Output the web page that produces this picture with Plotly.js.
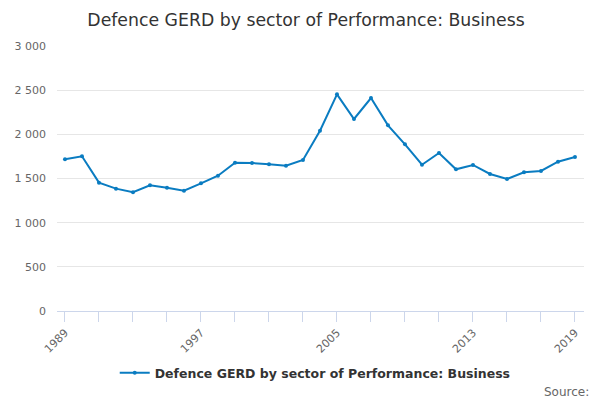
<!DOCTYPE html>
<html>
<head>
<meta charset="utf-8">
<script src="https://cdn.plot.ly/plotly-3.0.1.min.js"></script>
<style>
  html, body { margin: 0; padding: 0; background: #fff; }
  #chart { width: 600px; height: 400px; }
</style>
</head>
<body>
<div id="chart"></div>
<script>
var years = [1989, 1990, 1991, 1992, 1993, 1994, 1995, 1996, 1997, 1998,
             1999, 2000, 2001, 2002, 2003, 2004, 2005, 2006, 2007, 2008,
             2009, 2010, 2011, 2012, 2013, 2014, 2015, 2016, 2017, 2018, 2019];
var business = [1717, 1751, 1453, 1385, 1344, 1423, 1396, 1362, 1445, 1532,
                1679, 1675, 1660, 1645, 1709, 2041, 2453, 2174, 2411, 2102,
                1887, 1656, 1789, 1604, 1653, 1551, 1494, 1570, 1585, 1690, 1743];
var tickYears = [1989, 1991, 1993, 1995, 1997, 1999, 2001, 2003, 2005,
                 2007, 2009, 2011, 2013, 2015, 2017, 2019];
var tickLabels = ["1989", "", "", "", "1997", "", "", "", "2005",
                  "", "", "", "2013", "", "", "2019"];
var yTicks = [0, 500, 1000, 1500, 2000, 2500, 3000];

var data = [{
  type: "scatter",
  mode: "lines+markers",
  name: "<b>Defence GERD by sector of Performance: Business</b>",
  x: years,
  y: business,
  line: { color: "#0a7cc1", width: 2 },
  marker: { color: "#0a7cc1", size: 4 }
}];

var layout = {
  width: 600,
  height: 400,
  margin: { l: 57, r: 16, t: 46, b: 89 },
  paper_bgcolor: "#fff",
  plot_bgcolor: "#fff",
  separators: ". ",
  font: { family: "DejaVu Sans, sans-serif", color: "#666", size: 11 },
  title: {
    text: "Defence GERD by sector of Performance: Business",
    font: { family: "DejaVu Sans, sans-serif", size: 17.3, color: "#333" },
    x: 0.51, xanchor: "center", y: 0.95, yanchor: "middle"
  },
  xaxis: {
    range: [1988.53, 2019.53],
    automargin: false,
    tickmode: "array",
    tickvals: tickYears,
    ticktext: tickLabels,
    tickangle: -45,
    ticks: "outside",
    ticklen: 10,
    tickcolor: "#ccd6eb",
    showgrid: false,
    showline: true,
    linecolor: "#ccd6eb",
    zeroline: false,
    tickfont: { size: 11, color: "#666" }
  },
  yaxis: {
    range: [0, 3000],
    automargin: false,
    tickmode: "array",
    tickvals: yTicks,
    tickformat: ",d",
    showgrid: true,
    gridcolor: "#e6e6e6",
    zeroline: false,
    showline: false,
    ticks: "",
    ticklabelstandoff: 10,
    tickfont: { size: 11, color: "#666" }
  },
  showlegend: true,
  legend: {
    orientation: "h",
    x: 0.49, xanchor: "center",
    y: -0.234, yanchor: "middle",
    font: { size: 12.5, color: "#333" }
  },
  annotations: [{
    text: "Source:",
    xref: "paper", yref: "paper",
    x: 1.013, xanchor: "right",
    y: -0.305, yanchor: "middle",
    showarrow: false,
    font: { size: 12, color: "#666" }
  }]
};

Plotly.newPlot("chart", data, layout, { displayModeBar: false, staticPlot: true });
</script>
</body>
</html>
